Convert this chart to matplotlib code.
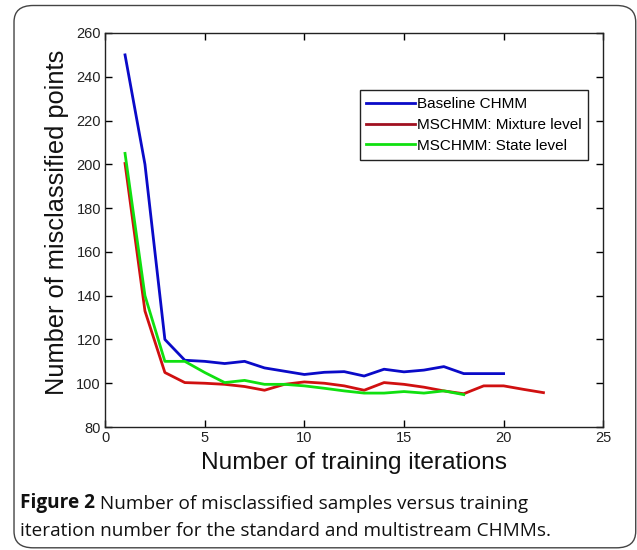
import matplotlib.pyplot as plt
from matplotlib.patches import FancyBboxPatch

# training iterations and misclassification counts per model
iters_base = list(range(1, 21))
baseline = [250, 200, 120, 110.5, 110, 109, 110, 107, 105.5, 104, 105, 105.3, 103.3,
            106.4, 105.2, 106, 107.6, 104.4, 104.4, 104.4]

iters_mix = list(range(1, 23))
mixture = [200.4, 133, 104.9, 100.3, 100, 99.5, 98.5, 96.8, 99.5, 100.6, 100, 98.8,
           96.8, 100.3, 99.5, 98.2, 96.5, 95.2, 98.8, 98.8, 97.2, 95.7]

iters_state = list(range(1, 19))
state = [205, 140, 110, 110, 104.9, 100.3, 101.3, 99.5, 99.5, 98.8, 97.7, 96.5,
         95.5, 95.5, 96.2, 95.5, 96.5, 94.8]

labels = ['Baseline CHMM', 'MSCHMM: Mixture level', 'MSCHMM: State level']
colors = ['#0a0ac8', '#d01010', '#10e010']

fig = plt.figure(figsize=(6.37, 5.5), dpi=100)

# rounded frame around the figure and caption
frame = FancyBboxPatch((0.022, 0.004), 0.976, 0.986, boxstyle='round,pad=0,rounding_size=0.03',
                       transform=fig.transFigure, fill=False, edgecolor='#444444', lw=1.0)
fig.patches.append(frame)

ax = fig.add_axes([0.165, 0.2236, 0.782, 0.7164])
ax.plot(iters_base, baseline, color=colors[0], lw=2, label=labels[0])
ax.plot(iters_mix, mixture, color=colors[1], lw=2, label=labels[1])
ax.plot(iters_state, state, color=colors[2], lw=2, label=labels[2])

ax.set_xlim(0, 25)
ax.set_ylim(80, 260)
ax.set_xticks(range(0, 26, 5))
ax.set_yticks(range(80, 261, 20))

tick_font = {'family': ['Liberation Sans Narrow', 'Liberation Sans'], 'size': 10.5}
ax.set_xticklabels([str(v) for v in range(0, 26, 5)], fontdict=tick_font, color='#222222')
ax.set_yticklabels([str(v) for v in range(80, 261, 20)], fontdict=tick_font, color='#222222')
ax.tick_params(direction='in', top=True, right=True, length=5, width=1, pad=3)
for s in ax.spines.values():
    s.set_linewidth(1.0)
    s.set_color('#222222')

ax.set_xlabel('Number of training iterations', fontsize=17.6, family='Liberation Sans',
              labelpad=5, color='#111111')
ax.set_ylabel('Number of misclassified points', fontsize=18.3, family='Liberation Sans',
              color='#111111')
ax.yaxis.set_label_coords(-0.072, 0.52)

leg = ax.legend(loc='upper right', bbox_to_anchor=(0.97, 0.855), fancybox=False,
                edgecolor='#222222', framealpha=1, borderaxespad=0,
                prop={'family': 'Liberation Sans', 'size': 11},
                handlelength=3.2, handletextpad=0.1, labelspacing=0.45, borderpad=0.45)
leg.get_frame().set_linewidth(1.0)
leg.legend_handles[1].set_color('#a01020')

# caption, bold figure number followed by normal text
cap_font = ['Open Sans', 'DejaVu Sans']
t1 = fig.text(0.031, 0.076, 'Figure 2', fontsize=13.7, weight='bold', family=cap_font,
              color='#111111')
ax.annotate(' Number of misclassified samples versus training', xy=(1, 0), xycoords=t1,
            fontsize=13.7, family=cap_font, color='#111111', va='bottom')
fig.text(0.031, 0.025, 'iteration number for the standard and multistream CHMMs.',
         fontsize=13.7, family=cap_font, color='#111111')

fig.savefig('out.png', dpi=100)
